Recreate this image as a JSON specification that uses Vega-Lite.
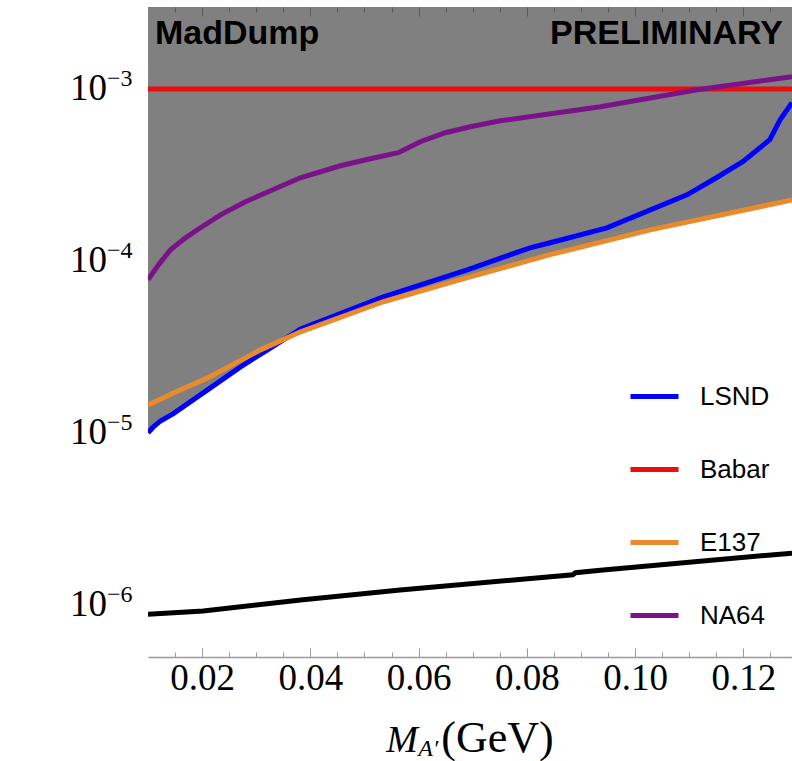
{
  "$schema": "https://vega.github.io/schema/vega-lite/v6.json",
  "width": 644,
  "height": 650,
  "autosize": {"type": "none"},
  "padding": {"left": 148, "top": 7, "right": 0, "bottom": 104},
  "background": "white",
  "config": {"view": {"stroke": null}},
  "datasets": {
    "limits": [
      {"experiment": "LSND", "mass": 0.0100, "eps": 1.000e-5},
      {"experiment": "LSND", "mass": 0.0110, "eps": 1.080e-5},
      {"experiment": "LSND", "mass": 0.0123, "eps": 1.170e-5},
      {"experiment": "LSND", "mass": 0.0147, "eps": 1.291e-5},
      {"experiment": "LSND", "mass": 0.0210, "eps": 1.775e-5},
      {"experiment": "LSND", "mass": 0.0271, "eps": 2.415e-5},
      {"experiment": "LSND", "mass": 0.0321, "eps": 3.034e-5},
      {"experiment": "LSND", "mass": 0.0382, "eps": 4.018e-5},
      {"experiment": "LSND", "mass": 0.0535, "eps": 6.180e-5},
      {"experiment": "LSND", "mass": 0.0690, "eps": 8.872e-5},
      {"experiment": "LSND", "mass": 0.0806, "eps": 1.191e-4},
      {"experiment": "LSND", "mass": 0.0843, "eps": 1.274e-4},
      {"experiment": "LSND", "mass": 0.0948, "eps": 1.556e-4},
      {"experiment": "LSND", "mass": 0.1096, "eps": 2.421e-4},
      {"experiment": "LSND", "mass": 0.1144, "eps": 2.965e-4},
      {"experiment": "LSND", "mass": 0.1199, "eps": 3.776e-4},
      {"experiment": "LSND", "mass": 0.1249, "eps": 5.070e-4},
      {"experiment": "LSND", "mass": 0.1268, "eps": 6.622e-4},
      {"experiment": "LSND", "mass": 0.1290, "eps": 8.318e-4},
      {"experiment": "Babar", "mass": 0.0100, "eps": 1.0e-3},
      {"experiment": "Babar", "mass": 0.1290, "eps": 1.0e-3},
      {"experiment": "E137", "mass": 0.0100, "eps": 1.449e-5},
      {"experiment": "E137", "mass": 0.0147, "eps": 1.702e-5},
      {"experiment": "E137", "mass": 0.0210, "eps": 2.084e-5},
      {"experiment": "E137", "mass": 0.0308, "eps": 3.034e-5},
      {"experiment": "E137", "mass": 0.0382, "eps": 3.864e-5},
      {"experiment": "E137", "mass": 0.0535, "eps": 5.781e-5},
      {"experiment": "E137", "mass": 0.0690, "eps": 7.980e-5},
      {"experiment": "E137", "mass": 0.0843, "eps": 1.086e-4},
      {"experiment": "E137", "mass": 0.1028, "eps": 1.514e-4},
      {"experiment": "E137", "mass": 0.1290, "eps": 2.259e-4},
      {"experiment": "NA64", "mass": 0.0100, "eps": 7.75e-5},
      {"experiment": "NA64", "mass": 0.01194, "eps": 9.478e-5},
      {"experiment": "NA64", "mass": 0.01415, "eps": 1.159e-4},
      {"experiment": "NA64", "mass": 0.01692, "eps": 1.361e-4},
      {"experiment": "NA64", "mass": 0.01969, "eps": 1.557e-4},
      {"experiment": "NA64", "mass": 0.02339, "eps": 1.853e-4},
      {"experiment": "NA64", "mass": 0.02800, "eps": 2.206e-4},
      {"experiment": "NA64", "mass": 0.03262, "eps": 2.557e-4},
      {"experiment": "NA64", "mass": 0.03816, "eps": 3.043e-4},
      {"experiment": "NA64", "mass": 0.04554, "eps": 3.576e-4},
      {"experiment": "NA64", "mass": 0.05108, "eps": 3.927e-4},
      {"experiment": "NA64", "mass": 0.05625, "eps": 4.256e-4},
      {"experiment": "NA64", "mass": 0.06031, "eps": 4.932e-4},
      {"experiment": "NA64", "mass": 0.06493, "eps": 5.565e-4},
      {"experiment": "NA64", "mass": 0.06955, "eps": 6.032e-4},
      {"experiment": "NA64", "mass": 0.07509, "eps": 6.530e-4},
      {"experiment": "NA64", "mass": 0.0936, "eps": 7.880e-4},
      {"experiment": "NA64", "mass": 0.1115, "eps": 9.900e-4},
      {"experiment": "NA64", "mass": 0.1290, "eps": 1.180e-3}
    ],
    "excluded": [
      {"mass": 0.0100, "eps": 1.000e-5},
      {"mass": 0.0110, "eps": 1.080e-5},
      {"mass": 0.0123, "eps": 1.170e-5},
      {"mass": 0.0147, "eps": 1.291e-5},
      {"mass": 0.0210, "eps": 1.775e-5},
      {"mass": 0.0271, "eps": 2.415e-5},
      {"mass": 0.0321, "eps": 3.034e-5},
      {"mass": 0.0382, "eps": 3.864e-5},
      {"mass": 0.0535, "eps": 5.781e-5},
      {"mass": 0.0690, "eps": 7.980e-5},
      {"mass": 0.0843, "eps": 1.086e-4},
      {"mass": 0.1028, "eps": 1.514e-4},
      {"mass": 0.1290, "eps": 2.259e-4}
    ],
    "madDump": [
      {"mass": 0.0100, "eps": 8.79e-7},
      {"mass": 0.0202, "eps": 9.16e-7},
      {"mass": 0.0382, "eps": 1.062e-6},
      {"mass": 0.0566, "eps": 1.213e-6},
      {"mass": 0.0885, "eps": 1.490e-6},
      {"mass": 0.0890, "eps": 1.530e-6},
      {"mass": 0.0936, "eps": 1.585e-6},
      {"mass": 0.1290, "eps": 1.991e-6}
    ],
    "decades": [
      {"eps": 1e-3, "exponent": "−3"},
      {"eps": 1e-4, "exponent": "−4"},
      {"eps": 1e-5, "exponent": "−5"},
      {"eps": 1e-6, "exponent": "−6"}
    ]
  },
  "resolve": {"axis": {"x": "independent"}},
  "layer": [
    {
      "encoding": {
        "y": {
          "field": "eps",
          "type": "quantitative",
          "scale": {"type": "log", "domain": [4.95e-7, 3.0e-3], "nice": false},
          "axis": {
            "values": [5e-7, 6e-7, 7e-7, 8e-7, 9e-7, 1e-6, 2e-6, 3e-6, 4e-6, 5e-6, 6e-6, 7e-6, 8e-6, 9e-6, 1e-5, 2e-5, 3e-5, 4e-5, 5e-5, 6e-5, 7e-5, 8e-5, 9e-5, 1e-4, 2e-4, 3e-4, 4e-4, 5e-4, 6e-4, 7e-4, 8e-4, 9e-4, 1e-3, 2e-3, 3e-3],
            "labels": false,
            "grid": false,
            "tickSize": {"condition": {"test": "indexof([0.000001, 0.00001, 0.0001, 0.001], datum.value) >= 0", "value": -8}, "value": -4},
            "tickColor": "#9a9a9a",
            "tickWidth": 1,
            "domainColor": "#9a9a9a",
            "domainWidth": 1.5,
            "zindex": 1,
            "title": "ϵ",
            "titleFont": "DejaVu Sans",
            "titleFontSize": 46,
            "titleFontWeight": "normal",
            "titleColor": "black",
            "titleAngle": 0,
            "titleAlign": "center",
            "titleBaseline": "middle",
            "titleX": -122,
            "titleY": 323
          }
        }
      },
      "resolve": {"axis": {"x": "independent"}},
      "layer": [
        {
          "data": {"name": "excluded"},
          "mark": {"type": "area", "color": "#808080", "opacity": 1, "clip": true},
          "encoding": {
            "x": {
              "field": "mass",
              "type": "quantitative",
              "scale": {"domain": [0.01, 0.129], "nice": false, "zero": false},
              "axis": {
                "orient": "bottom",
                "values": [0.015, 0.02, 0.025, 0.03, 0.035, 0.04, 0.045, 0.05, 0.055, 0.06, 0.065, 0.07, 0.075, 0.08, 0.085, 0.09, 0.095, 0.1, 0.105, 0.11, 0.115, 0.12, 0.125],
                "labelExpr": "indexof([0.02, 0.04, 0.06, 0.08, 0.1, 0.12], datum.value) >= 0 ? format(datum.value, '.2f') : ''",
                "tickSize": {"condition": {"test": "indexof([0.02, 0.04, 0.06, 0.08, 0.1, 0.12], datum.value) >= 0", "value": -9}, "value": -5},
                "tickColor": "#9a9a9a",
                "tickWidth": 1,
                "domainColor": "#9a9a9a",
                "domainWidth": 1.5,
                "grid": false,
                "labelFont": "Liberation Serif",
                "labelFontSize": 37,
                "labelColor": "black",
                "labelPadding": 12,
                "labelFlush": false,
                "labelOverlap": false,
                "title": null,
                "zindex": 1
              }
            },
            "y2": {"datum": 3.0e-3}
          }
        },
        {
          "data": {"name": "madDump"},
          "mark": {"type": "line", "color": "black", "strokeWidth": 5, "clip": true},
          "encoding": {
            "x": {
              "field": "mass",
              "type": "quantitative",
              "axis": {
                "orient": "top",
                "values": [0.015, 0.02, 0.025, 0.03, 0.035, 0.04, 0.045, 0.05, 0.055, 0.06, 0.065, 0.07, 0.075, 0.08, 0.085, 0.09, 0.095, 0.1, 0.105, 0.11, 0.115, 0.12, 0.125],
                "labels": false,
                "domain": false,
                "grid": false,
                "tickSize": {"condition": {"test": "indexof([0.02, 0.04, 0.06, 0.08, 0.1, 0.12], datum.value) >= 0", "value": -9}, "value": -5},
                "tickColor": "#5a5a5a",
                "tickWidth": 1,
                "title": null,
                "zindex": 1
              }
            }
          }
        },
        {
          "data": {"name": "limits"},
          "mark": {"type": "line", "strokeWidth": 5, "clip": true},
          "encoding": {
            "x": {"field": "mass", "type": "quantitative", "axis": null},
            "color": {
              "field": "experiment",
              "type": "nominal",
              "sort": ["LSND", "Babar", "E137", "NA64"],
              "scale": {
                "domain": ["LSND", "Babar", "E137", "NA64"],
                "range": ["#0000ff", "#ec0d0d", "#e98a2c", "#7a128a"]
              },
              "legend": {
                "orient": "none",
                "legendX": 480,
                "legendY": 363,
                "title": null,
                "padding": 0,
                "symbolType": "stroke",
                "symbolStrokeWidth": 5,
                "symbolSize": 2304,
                "labelFont": "Liberation Sans",
                "labelFontSize": 26,
                "labelColor": "black",
                "labelOffset": 19,
                "rowPadding": 33
              }
            }
          }
        },
        {
          "data": {"name": "decades"},
          "mark": {"type": "text", "text": "10", "font": "Liberation Serif", "fontSize": 37, "align": "right", "baseline": "middle", "dx": -41, "color": "black"},
          "encoding": {"x": {"datum": 0.01, "type": "quantitative", "axis": null}}
        },
        {
          "data": {"name": "decades"},
          "mark": {"type": "text", "font": "Liberation Serif", "fontSize": 24, "align": "left", "baseline": "middle", "dx": -41, "dy": -10, "color": "black"},
          "encoding": {
            "x": {"datum": 0.01, "type": "quantitative", "axis": null},
            "text": {"field": "exponent"}
          }
        }
      ]
    },
    {
      "data": {"values": [{}]},
      "mark": {"type": "text", "text": "MadDump", "font": "Liberation Sans", "fontWeight": "bold", "fontSize": 34, "align": "left", "baseline": "middle", "dx": 7, "dy": 27, "color": "black"},
      "encoding": {
        "x": {"datum": 0.01, "type": "quantitative", "axis": null},
        "y": {"datum": 3.0e-3, "type": "quantitative", "axis": null}
      }
    },
    {
      "data": {"values": [{}]},
      "mark": {"type": "text", "text": "PRELIMINARY", "font": "Liberation Sans", "fontWeight": "bold", "fontSize": 34, "align": "right", "baseline": "middle", "dx": -9, "dy": 27, "color": "black"},
      "encoding": {
        "x": {"datum": 0.129, "type": "quantitative", "axis": null},
        "y": {"datum": 3.0e-3, "type": "quantitative", "axis": null}
      }
    },
    {
      "data": {"values": [{}]},
      "mark": {"type": "text", "text": "M", "font": "Liberation Serif", "fontStyle": "italic", "fontSize": 38, "align": "left", "baseline": "alphabetic", "dy": 95, "color": "black"},
      "encoding": {
        "x": {"datum": 0.05404, "type": "quantitative", "axis": null},
        "y": {"datum": 4.95e-7, "type": "quantitative", "axis": null}
      }
    },
    {
      "data": {"values": [{}]},
      "mark": {"type": "text", "text": "A′", "font": "Liberation Serif", "fontStyle": "italic", "fontSize": 24, "align": "left", "baseline": "alphabetic", "dy": 99, "color": "black"},
      "encoding": {
        "x": {"datum": 0.05995, "type": "quantitative", "axis": null},
        "y": {"datum": 4.95e-7, "type": "quantitative", "axis": null}
      }
    },
    {
      "data": {"values": [{}]},
      "mark": {"type": "text", "text": "(GeV)", "font": "Liberation Serif", "fontSize": 44, "align": "left", "baseline": "alphabetic", "dy": 95, "color": "black"},
      "encoding": {
        "x": {"datum": 0.06419, "type": "quantitative", "axis": null},
        "y": {"datum": 4.95e-7, "type": "quantitative", "axis": null}
      }
    }
  ]
}
